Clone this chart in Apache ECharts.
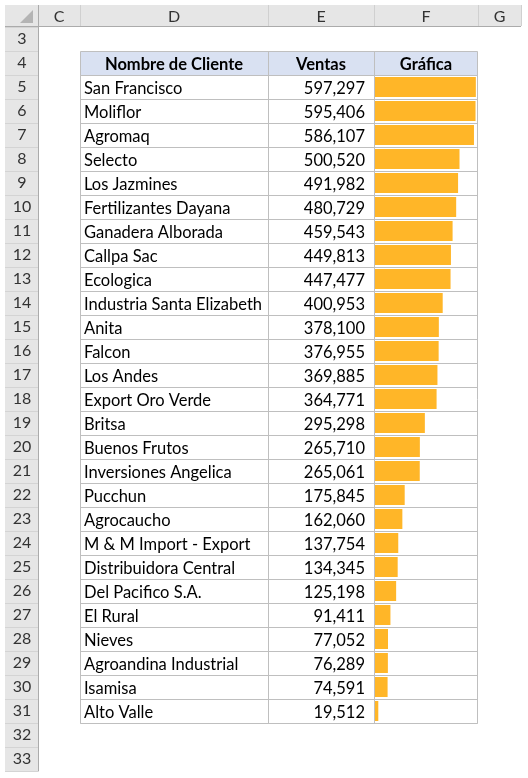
<!DOCTYPE html>
<html>
<head>
<meta charset="utf-8">
<script src="https://cdn.jsdelivr.net/npm/echarts@6/dist/echarts.min.js"></script>
<style>
  html, body { margin: 0; padding: 0; background: #fff; }
  #main { width: 528px; height: 778px; }
</style>
</head>
<body>
<div id="main"></div>
<script>
const clientes = [
  'San Francisco', 'Moliflor', 'Agromaq', 'Selecto', 'Los Jazmines',
  'Fertilizantes Dayana', 'Ganadera Alborada', 'Callpa Sac', 'Ecologica',
  'Industria Santa Elizabeth', 'Anita', 'Falcon', 'Los Andes', 'Export Oro Verde',
  'Britsa', 'Buenos Frutos', 'Inversiones Angelica', 'Pucchun', 'Agrocaucho',
  'M & M Import - Export', 'Distribuidora Central', 'Del Pacifico S.A.',
  'El Rural', 'Nieves', 'Agroandina Industrial', 'Isamisa', 'Alto Valle'
]
const ventas = [
  597297, 595406, 586107, 500520, 491982, 480729, 459543, 449813, 447477,
  400953, 378100, 376955, 369885, 364771, 295298, 265710, 265061, 175845,
  162060, 137754, 134345, 125198, 91411, 77052, 76289, 74591, 19512
]
const encabezados = ['Nombre de Cliente', 'Ventas', 'Gráfica']
const columnas = ['C', 'D', 'E', 'F', 'G']
const filas = []
for (let r = 3; r <= 33; r++) filas.push(String(r))

const FONT = 'Lato'
const FS = 16.5
const chart = echarts.init(document.getElementById('main'))

// bordes de columnas (hoja)
const colX = [38, 80, 268, 374, 478, 521]
const rowH = 24
const topRow3 = 27
const rowTop = r => topRow3 + (r - 3) * rowH

const graphics = []
// encabezado de columnas
graphics.push({
  type: 'rect', shape: { x: 5, y: 5, width: 516, height: 22 },
  style: { fill: '#E6E6E6' }, silent: true
})
graphics.push({
  type: 'line', shape: { x1: 5, y1: 26.5, x2: 521, y2: 26.5 },
  style: { stroke: '#ABABAB', lineWidth: 1 }
})
colX.forEach(x => {
  graphics.push({
    type: 'line', shape: { x1: x + 0.5, y1: 5, x2: x + 0.5, y2: 26 },
    style: { stroke: x === 38 ? '#ABABAB' : '#D0D0D0', lineWidth: 1 }
  })
})
columnas.forEach((c, i) => {
  graphics.push({
    type: 'text', x: (colX[i] + colX[i + 1]) / 2, y: 16.5,
    style: { text: c, fill: '#333', font: '16px ' + FONT, textAlign: 'center', textVerticalAlign: 'middle' }
  })
})
// triangulo de seleccion
graphics.push({
  type: 'polygon', shape: { points: [[33, 10], [33, 23], [20, 23]] },
  style: { fill: '#B4B4B4' }
})
// fila de encabezado de la tabla
graphics.push({
  type: 'rect', shape: { x: 80.5, y: rowTop(4) + 0.5, width: 397, height: rowH },
  style: { fill: '#D9E1F2', stroke: '#BFBFBF', lineWidth: 1 }
})
encabezados.forEach((h, i) => {
  graphics.push({
    type: 'text', x: (colX[i + 1] + colX[i + 2]) / 2, y: rowTop(4) + rowH / 2 + 2,
    style: { text: h, fill: '#000', font: 'bold ' + FS + 'px ' + FONT, textAlign: 'center', textVerticalAlign: 'middle' }
  })
})
// separadores verticales de la tabla
;[268, 374].forEach(x => {
  graphics.push({
    type: 'line', shape: { x1: x + 0.5, y1: rowTop(4), x2: x + 0.5, y2: rowTop(32) },
    style: { stroke: '#BFBFBF', lineWidth: 1 }, z: 10
  })
})

const option = {
  animation: false,
  backgroundColor: '#fff',
  textStyle: { fontFamily: FONT },
  graphic: graphics,
  grid: [
    // barras
    { left: 375, top: rowTop(5), width: 103, height: rowH * 27 },
    // tabla (lineas horizontales y borde)
    { left: 80.5, top: rowTop(5) + 0.5, width: 397, height: rowH * 27, show: true, borderColor: '#BFBFBF', borderWidth: 1, backgroundColor: 'transparent' },
    // numeros de fila
    { left: 5, top: rowTop(3), width: 33, height: rowH * 31, show: true, backgroundColor: '#E6E6E6', borderColor: '#ABABAB', borderWidth: 0 },
    // textos de la tabla (un poco mas abajo, como en Excel)
    { left: 375, top: rowTop(5) + 2, width: 103, height: rowH * 27 }
  ],
  xAxis: [
    { gridIndex: 0, type: 'value', min: 0, max: 610000, show: false },
    { gridIndex: 1, type: 'value', min: 0, max: 1, show: false },
    { gridIndex: 2, type: 'value', min: 0, max: 1, show: false },
    { gridIndex: 3, type: 'value', min: 0, max: 1, show: false }
  ],
  yAxis: [
    {
      gridIndex: 0, type: 'category', inverse: true, data: clientes, show: false
    },
    {
      gridIndex: 3, type: 'category', inverse: true, data: clientes, position: 'left', offset: 0,
      axisLine: { show: false }, axisTick: { show: false }, splitLine: { show: false },
      axisLabel: { align: 'left', margin: 291, color: '#000', fontSize: FS, fontFamily: FONT }
    },
    {
      gridIndex: 3, type: 'category', inverse: true, data: ventas.map(v => v.toLocaleString('en-US')),
      position: 'left', offset: 0,
      axisLine: { show: false }, axisTick: { show: false }, splitLine: { show: false },
      axisLabel: { align: 'right', margin: 10, color: '#000', fontSize: FS, fontFamily: FONT }
    },
    {
      gridIndex: 1, type: 'category', inverse: true, data: clientes,
      axisLine: { show: false }, axisTick: { show: false }, axisLabel: { show: false },
      splitLine: { show: true, interval: 0, lineStyle: { color: '#BFBFBF', width: 1 } }
    },
    {
      gridIndex: 2, type: 'category', inverse: true, data: filas,
      axisLine: { show: true, onZero: false, lineStyle: { color: '#ABABAB' } },
      position: 'right',
      axisTick: { show: false },
      axisLabel: { inside: true, align: 'center', margin: 16, color: '#333', fontSize: 16, fontFamily: FONT },
      splitLine: { show: true, interval: 0, lineStyle: { color: '#D4D4D4', width: 1 } }
    }
  ],
  series: [
    {
      type: 'bar', xAxisIndex: 0, yAxisIndex: 0, data: ventas,
      barWidth: 20, itemStyle: { color: '#FFB628' }, silent: true
    }
  ]
}
chart.setOption(option)
</script>
</body>
</html>
